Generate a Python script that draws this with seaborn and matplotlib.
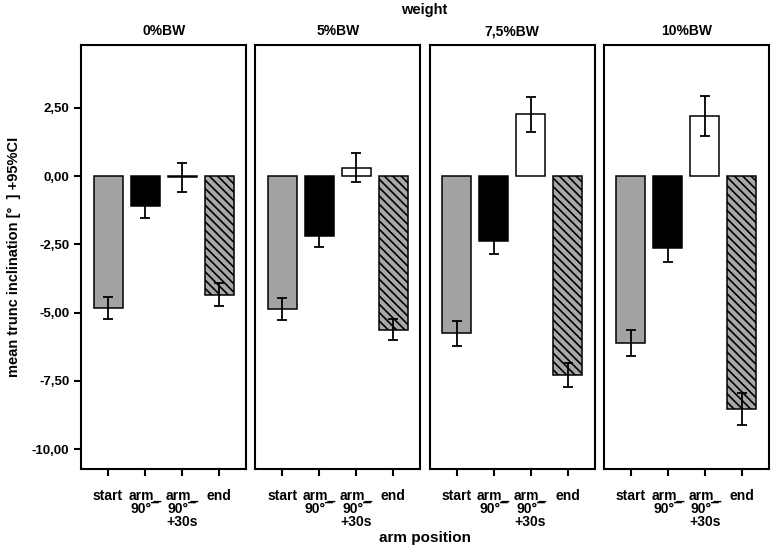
import seaborn as sns
import numpy as np
import pandas as pd
import matplotlib.pyplot as plt
from matplotlib.ticker import FuncFormatter

WEIGHT = 'weight'
POSITION = 'arm position'
MEAN = 'mean'

weights = ['0%BW', '5%BW', '7,5%BW', '10%BW']
positions = ['start', 'arm_\n90°¯', 'arm_\n90°¯\n+30s', 'end']

# mean trunc inclination per weight, order = positions
mean_0 = [-4.83, -1.10, -0.05, -4.35]
mean_5 = [-4.88, -2.19, 0.31, -5.62]
mean_75 = [-5.75, -2.39, 2.26, -7.29]
mean_10 = [-6.12, -2.62, 2.20, -8.53]

# 95% CI bounds
lo_0 = [-5.24, -1.54, -0.59, -4.76]
hi_0 = [-4.42, -0.66, 0.48, -3.93]
lo_5 = [-5.27, -2.61, -0.21, -6.00]
hi_5 = [-4.48, -1.77, 0.83, -5.24]
lo_75 = [-6.21, -2.86, 1.62, -7.74]
hi_75 = [-5.30, -1.92, 2.88, -6.86]
lo_10 = [-6.58, -3.15, 1.47, -9.12]
hi_10 = [-5.64, -2.09, 2.92, -7.96]

bar_colors = ['#a3a3a3', '#000000', '#ffffff', '#a8a8a8']

rows = []
for w, m, lo, hi in zip(weights,
                        [mean_0, mean_5, mean_75, mean_10],
                        [lo_0, lo_5, lo_75, lo_10],
                        [hi_0, hi_5, hi_75, hi_10]):
    for p, mv, l, h in zip(positions, m, lo, hi):
        rows.append({WEIGHT: w, POSITION: p, MEAN: mv, 'lo': l, 'hi': h})
df = pd.DataFrame(rows)

sns.set_theme(style='ticks')
plt.rcParams['font.family'] = ['Liberation Sans', 'DejaVu Sans']
plt.rcParams['font.weight'] = 'bold'
plt.rcParams['hatch.linewidth'] = 1.2
for key in ['text.color', 'axes.labelcolor', 'xtick.color', 'ytick.color',
            'axes.edgecolor']:
    plt.rcParams[key] = 'black'

fig, axes = plt.subplots(1, 4, figsize=(7.72, 5.48), dpi=100, sharey=True)
fig.subplots_adjust(left=0.105, right=0.996, top=0.918, bottom=0.144, wspace=0.055)

for ax, w in zip(axes, weights):
    sub = df[df[WEIGHT] == w]
    sns.barplot(data=sub, x=POSITION, y=MEAN, hue=POSITION, order=positions,
                hue_order=positions, palette=bar_colors, errorbar=None,
                width=0.78, edgecolor='black', linewidth=1.1, legend=False,
                ax=ax)
    for patch in ax.patches:
        idx = int(round(patch.get_x() + patch.get_width() / 2))
        if idx == 3:
            patch.set_hatch('\\\\\\\\')
    ax.errorbar(np.arange(len(positions)), sub[MEAN].values,
                yerr=[sub[MEAN].values - sub['lo'].values,
                      sub['hi'].values - sub[MEAN].values],
                fmt='none', ecolor='black', elinewidth=1.3, capsize=3.6,
                capthick=1.3, zorder=5)
    ax.set_xlim(-0.73, 3.73)
    ax.set_ylim(-10.73, 4.8)
    ax.set_title(w, fontsize=10, fontweight='bold', pad=7)
    ax.set_xlabel('')
    ax.set_ylabel('')
    for s in ax.spines.values():
        s.set_visible(True)
        s.set_linewidth(1.5)
        s.set_color('black')
    ax.tick_params(axis='x', length=5, width=1.5, labelsize=10, pad=9)
    ax.tick_params(axis='y', length=5, width=1.5, labelsize=9.5)
    for lab in ax.get_xticklabels():
        lab.set_fontweight('bold')
        lab.set_linespacing(0.95)

axes[0].set_yticks([2.5, 0, -2.5, -5, -7.5, -10])
axes[0].yaxis.set_major_formatter(FuncFormatter(lambda v, p: f'{v:.2f}'.replace('.', ',')))
for lab in axes[0].get_yticklabels():
    lab.set_fontweight('bold')
for ax in axes[1:]:
    ax.tick_params(axis='y', left=False)

axes[0].set_ylabel('mean trunc inclination [°  ] +95%CI', fontsize=10.5,
                   fontweight='bold', labelpad=8)
fig.text(0.55, 0.995, 'weight', ha='center', va='top', fontsize=10.5,
         fontweight='bold')
fig.text(0.55, 0.005, 'arm position', ha='center', va='bottom', fontsize=11,
         fontweight='bold')

fig.savefig('out.png', dpi=100)
